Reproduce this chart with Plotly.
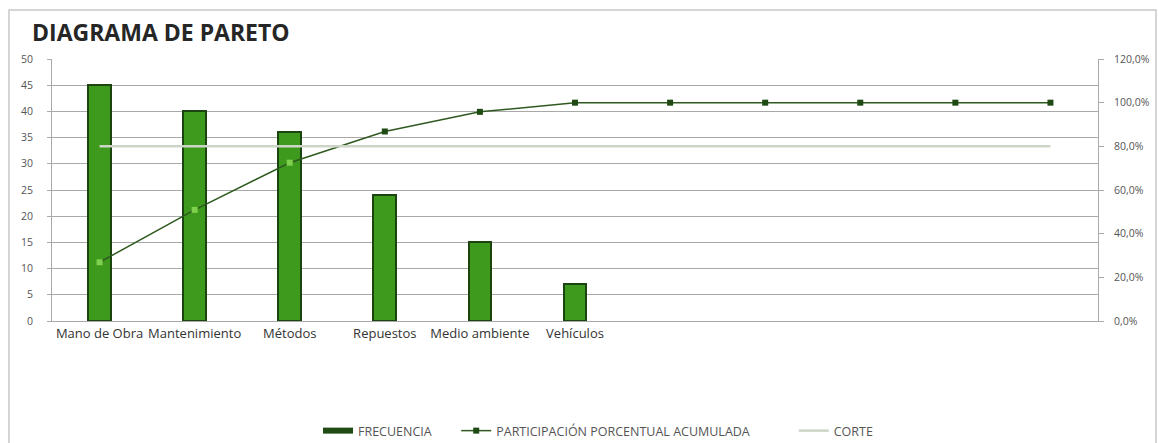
import plotly.graph_objects as go

# Pareto data: causes, frequency and cumulative share (%)
categories = ["Mano de Obra", "Mantenimiento", "Métodos", "Repuestos",
              "Medio ambiente", "Vehículos", "", "", "", "", ""]
frecuencia = [45, 40, 36, 24, 15, 7, None, None, None, None, None]
acumulado = [26.9, 50.9, 72.5, 86.8, 95.8, 100.0, 100.0, 100.0, 100.0, 100.0, 100.0]
corte = [80, 80, 80, 80, 80, 80, 80, 80, 80, 80, 80]
left_ticks = [0, 5, 10, 15, 20, 25, 30, 35, 40, 45, 50]
right_ticks = [0, 20, 40, 60, 80, 100, 120]
right_labels = ["0,0%", "20,0%", "40,0%", "60,0%", "80,0%", "100,0%", "120,0%"]

positions = list(range(len(categories)))

FONT = "'Open Sans', Lato, sans-serif"
GRID = "#a9a9a9"
TICKFONT = dict(family=FONT, size=10.5, color="#555555")
BAR_FILL = "#3d9a1c"
BAR_EDGE = "#1b4410"
LINE_DARK = "#2f5a1f"
MARK_DARK = "#1f4a14"
NBSP = "\u00a0"

# markers sitting inside a bar look lighter
marker_colors = ["#7fd04c" if (f is not None and f * 120 / 50 > a) else MARK_DARK
                 for f, a in zip(frecuencia, acumulado)]

fig = go.Figure()

fig.add_trace(go.Bar(
    x=positions, y=frecuencia, name="FRECUENCIA",
    width=0.24, showlegend=False, legendgroup="frec",
    marker=dict(color=BAR_FILL, line=dict(color=BAR_EDGE, width=2)),
    yaxis="y",
))

fig.add_trace(go.Scatter(
    x=positions, y=acumulado, name="PARTICIPACIÓN PORCENTUAL ACUMULADA",
    mode="lines+markers", showlegend=False, legendgroup="acum",
    line=dict(color=LINE_DARK, width=1.5),
    marker=dict(symbol="square", size=6, color=marker_colors),
    yaxis="y2",
))

fig.add_trace(go.Scatter(
    x=positions, y=corte, name="CORTE",
    mode="lines", showlegend=False, legendgroup="corte",
    line=dict(color="#cdd5c6", width=2.5),
    yaxis="y2",
))

# legend keys
fig.add_trace(go.Scatter(
    x=[None], y=[None], name="FRECUENCIA" + NBSP * 6, legendgroup="frec",
    mode="lines", line=dict(color=MARK_DARK, width=6), yaxis="y",
))
fig.add_trace(go.Scatter(
    x=[None], y=[None], name="PARTICIPACIÓN PORCENTUAL ACUMULADA" + NBSP * 12,
    legendgroup="acum", mode="lines+markers",
    line=dict(color=LINE_DARK, width=1.5),
    marker=dict(symbol="square", size=6, color=MARK_DARK), yaxis="y2",
))
fig.add_trace(go.Scatter(
    x=[None], y=[None], name="CORTE", legendgroup="corte",
    mode="lines", line=dict(color="#cdd5c6", width=2.5), yaxis="y2",
))

fig.update_layout(
    width=1158, height=443,
    margin=dict(l=52, r=60, t=59, b=122),
    paper_bgcolor="white", plot_bgcolor="white",
    font=dict(family=FONT, color="#333333"),
    title=dict(
        text="<b>DIAGRAMA DE PARETO</b>",
        xref="container", yref="container",
        x=32 / 1158, y=1 - 33 / 443, xanchor="left", yanchor="middle",
        font=dict(family=FONT, size=23, color="#262626"),
    ),
    xaxis=dict(
        range=[-0.5, len(categories) - 0.5],
        tickmode="array", tickvals=positions, ticktext=categories,
        tickfont=dict(family=FONT, size=13, color="#333333"),
        showgrid=False, zeroline=False,
        showline=True, linecolor=GRID, linewidth=1,
        ticks="", automargin=False,
    ),
    yaxis=dict(
        range=[0, 50], tickmode="array", tickvals=left_ticks,
        tickfont=TICKFONT,
        showgrid=True, gridcolor=GRID, gridwidth=1,
        zeroline=False, showline=True, linecolor=GRID, linewidth=1,
        ticks="outside", ticklen=4, tickcolor=GRID,
        ticklabelstandoff=12, automargin=False,
    ),
    yaxis2=dict(
        range=[0, 120], overlaying="y", side="right",
        tickmode="array", tickvals=right_ticks, ticktext=right_labels,
        tickfont=TICKFONT,
        showgrid=False, zeroline=False,
        showline=True, linecolor=GRID, linewidth=1,
        ticks="outside", ticklen=5, tickcolor=GRID,
        ticklabelstandoff=8, automargin=False,
    ),
    showlegend=True,
    legend=dict(
        orientation="h",
        xref="container", yref="container",
        x=318 / 1158, y=1 - 431 / 443, xanchor="left", yanchor="middle",
        font=dict(family=FONT, size=12.5, color="#555555"),
        itemwidth=30, tracegroupgap=0,
    ),
    bargap=0,
    shapes=[dict(
        type="rect", xref="paper", yref="paper",
        x0=-43 / 1046, x1=1104 / 1046, y0=-130 / 262, y1=1 + 49 / 262,
        line=dict(color="#c8c8c8", width=1.5), fillcolor="rgba(0,0,0,0)",
        layer="below",
    )],
)

fig.write_html("out.html")
